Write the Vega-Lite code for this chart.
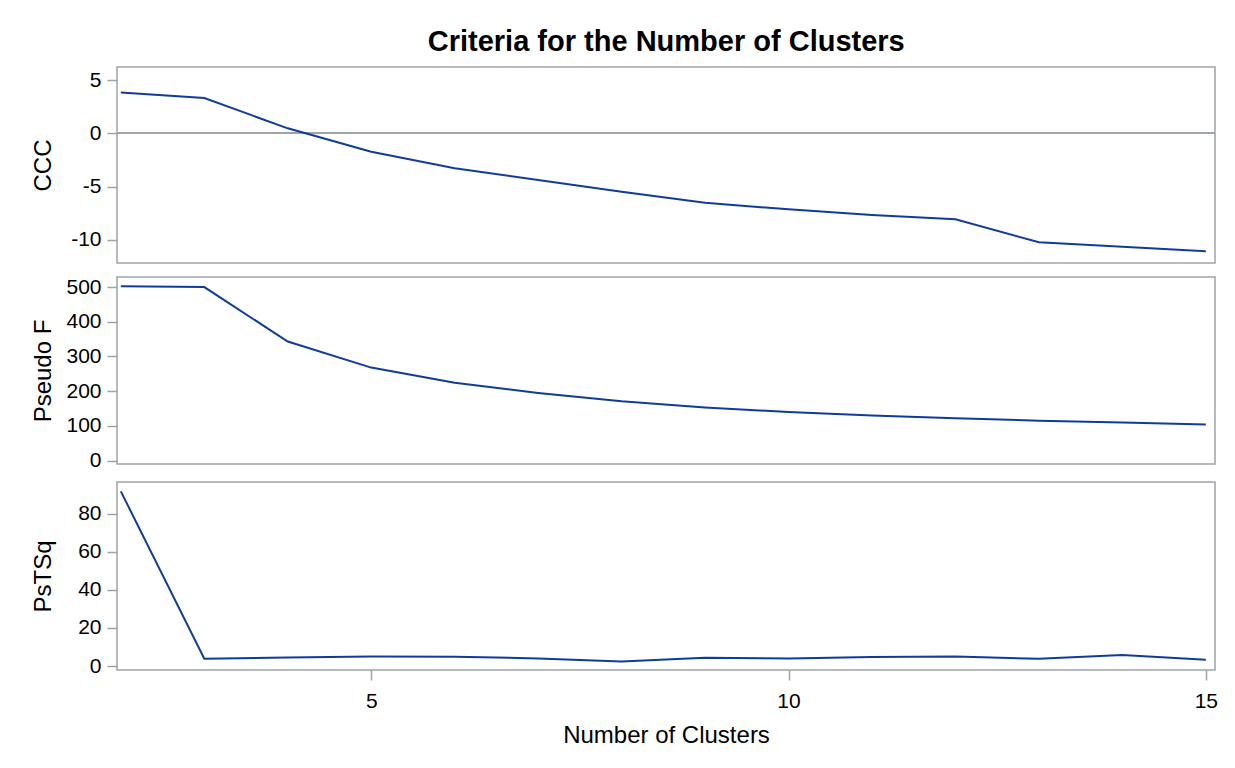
{
  "$schema": "https://vega.github.io/schema/vega-lite/v6.json",
  "padding": {"left": 30, "top": 28, "right": 10, "bottom": 10},
  "title": {"text": "Criteria for the Number of Clusters", "fontSize": 29, "font": "Liberation Sans", "fontWeight": "bold", "color": "#000000", "anchor": "middle", "offset": 9, "dx": 42},
  "datasets": {
    "clusters": [
      {"NumberOfClusters": 2, "CCC": 3.84, "PseudoF": 502, "PsTSq": 91.7},
      {"NumberOfClusters": 3, "CCC": 3.31, "PseudoF": 500, "PsTSq": 3.8},
      {"NumberOfClusters": 4, "CCC": 0.47, "PseudoF": 343, "PsTSq": 4.5},
      {"NumberOfClusters": 5, "CCC": -1.72, "PseudoF": 268, "PsTSq": 5.0},
      {"NumberOfClusters": 6, "CCC": -3.28, "PseudoF": 224, "PsTSq": 4.8},
      {"NumberOfClusters": 7, "CCC": -4.37, "PseudoF": 195, "PsTSq": 4.0},
      {"NumberOfClusters": 8, "CCC": -5.47, "PseudoF": 171, "PsTSq": 2.3},
      {"NumberOfClusters": 9, "CCC": -6.5, "PseudoF": 153, "PsTSq": 4.3},
      {"NumberOfClusters": 10, "CCC": -7.13, "PseudoF": 140, "PsTSq": 4.0},
      {"NumberOfClusters": 11, "CCC": -7.65, "PseudoF": 130, "PsTSq": 4.7},
      {"NumberOfClusters": 12, "CCC": -8.05, "PseudoF": 122, "PsTSq": 5.0},
      {"NumberOfClusters": 13, "CCC": -10.22, "PseudoF": 115, "PsTSq": 3.8},
      {"NumberOfClusters": 14, "CCC": -10.63, "PseudoF": 110, "PsTSq": 5.8},
      {"NumberOfClusters": 15, "CCC": -11.06, "PseudoF": 104, "PsTSq": 3.3}
    ]
  },
  "data": {"name": "clusters"},
  "spacing": 9,
  "vconcat": [
    {
      "spacing": 11,
      "vconcat": [
        {
          "width": 1098,
          "height": 196,
          "layer": [
            {
              "mark": {"type": "rule", "color": "#9ea3a8", "strokeWidth": 1.5},
              "encoding": {
                "y": {"datum": 0, "type": "quantitative", "scale": {"domain": [-12.16, 6.22], "nice": false, "zero": false}, "axis": {"title": "CCC", "values": [-10, -5, 0, 5], "labelExpr": "datum.value + ''"}}
              }
            },
            {
              "mark": {"type": "line", "color": "#0F3C9C", "strokeWidth": 2},
              "encoding": {
                "x": {"field": "NumberOfClusters", "type": "quantitative", "scale": {"domain": [1.954, 15.11], "nice": false, "zero": false}, "axis": null},
                "y": {"field": "CCC", "type": "quantitative", "scale": {"domain": [-12.16, 6.22], "nice": false, "zero": false}, "axis": {"title": "CCC", "values": [-10, -5, 0, 5], "labelExpr": "datum.value + ''"}}
              }
            }
          ]
        },
        {
          "width": 1098,
          "height": 187,
          "mark": {"type": "line", "color": "#0F3C9C", "strokeWidth": 2},
          "encoding": {
            "x": {"field": "NumberOfClusters", "type": "quantitative", "scale": {"domain": [1.954, 15.11], "nice": false, "zero": false}, "axis": null},
            "y": {"field": "PseudoF", "type": "quantitative", "scale": {"domain": [-9.8, 529], "nice": false, "zero": false}, "axis": {"title": "Pseudo F", "values": [0, 100, 200, 300, 400, 500]}}
          }
        }
      ]
    },
    {
      "width": 1098,
      "height": 188,
      "mark": {"type": "line", "color": "#0F3C9C", "strokeWidth": 2},
      "encoding": {
        "x": {"field": "NumberOfClusters", "type": "quantitative", "scale": {"domain": [1.954, 15.11], "nice": false, "zero": false}, "axis": {"title": "Number of Clusters", "values": [5, 10, 15]}},
        "y": {"field": "PsTSq", "type": "quantitative", "scale": {"domain": [-2.1, 96.6], "nice": false, "zero": false}, "axis": {"title": "PsTSq", "values": [0, 20, 40, 60, 80]}}
      }
    }
  ],
  "config": {
    "font": "Liberation Sans",
    "view": {"stroke": "#9ea3a8", "strokeWidth": 1.5},
    "axis": {
      "domain": false,
      "grid": false,
      "labelFlush": false,
      "tickColor": "#9ea3a8",
      "tickWidth": 1.5,
      "tickSize": 10,
      "labelFont": "Liberation Sans",
      "labelFontSize": 21,
      "labelColor": "#000000",
      "titleFont": "Liberation Sans",
      "titleFontSize": 24,
      "titleFontWeight": "normal",
      "titleColor": "#000000"
    },
    "axisY": {"labelPadding": 6, "minExtent": 50, "maxExtent": 50, "titlePadding": 12},
    "axisX": {"labelPadding": 10, "titlePadding": 12}
  }
}
